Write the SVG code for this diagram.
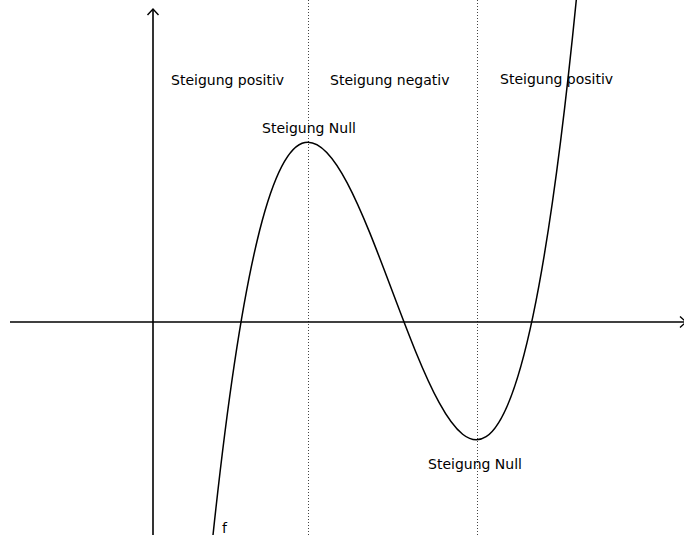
<svg xmlns="http://www.w3.org/2000/svg" width="684" height="535" viewBox="0 0 684 535">
  <style>
    .axis { stroke: #000; stroke-width: 1.6; fill: none; }
    .guide { stroke: #444; stroke-width: 1; stroke-dasharray: 1 2; fill: none; }
    .curve { stroke: #000; stroke-width: 1.5; fill: none; }
    .lbl { font-family: "DejaVu Sans", "Liberation Sans", sans-serif; font-size: 14px; fill: #000; }
  </style>
  <defs>
    <marker id="arrow" markerUnits="userSpaceOnUse" markerWidth="14" markerHeight="14" viewBox="-8 -7 10 14" refX="0" refY="0" orient="auto" overflow="visible">
      <path d="M-6,-5.5 L0,0 L-6,5.5" fill="none" stroke="#000" stroke-width="1.4"/>
    </marker>
  </defs>
  <rect width="684" height="535" fill="#fff"/>
  <g id="guides">
    <line class="guide" x1="308.5" y1="0" x2="308.5" y2="535"/>
    <line class="guide" x1="477.5" y1="0" x2="477.5" y2="535"/>
  </g>
  <g id="axes">
    <line id="x-axis" class="axis" x1="10" y1="322" x2="686" y2="322" marker-end="url(#arrow)"/>
    <line id="y-axis" class="axis" x1="153" y1="535" x2="153" y2="9" marker-end="url(#arrow)"/>
  </g>
  <g id="graph-f">
    <path class="curve" d="M212,544.51 C334.67,-624.2 457.33,1258.1 580,-38.22"/>
  </g>
  <g id="labels">
    <text class="lbl" x="171" y="85">Steigung positiv</text>
    <text class="lbl" x="330" y="85">Steigung negativ</text>
    <text class="lbl" x="500" y="84">Steigung positiv</text>
    <text class="lbl" x="262" y="133">Steigung Null</text>
    <text class="lbl" x="428" y="469">Steigung Null</text>
    <text class="lbl" x="222" y="533">f</text>
  </g>
</svg>
